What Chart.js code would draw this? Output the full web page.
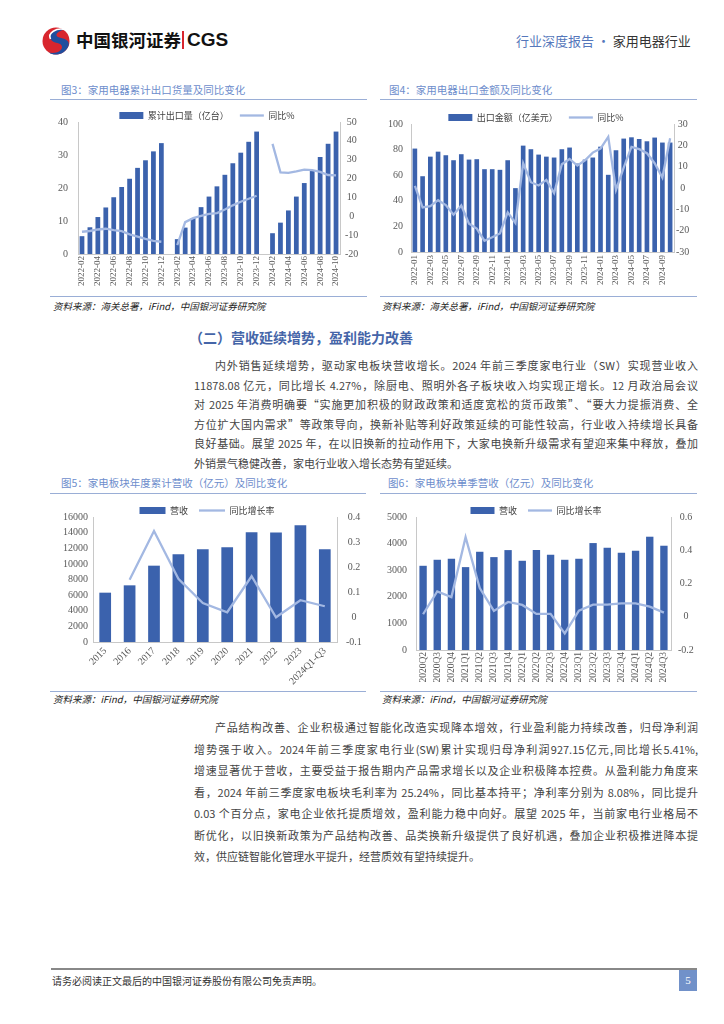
<!DOCTYPE html>
<html lang="zh-CN">
<head>
<meta charset="utf-8">
<title>行业深度报告 · 家用电器行业</title>
<script src="https://cdn.jsdelivr.net/npm/chart.js@4.4.1/dist/chart.umd.min.js"></script>
<style>
  html, body { margin: 0; padding: 0; background: #fff; }
  .page { position: relative; width: 724px; height: 1024px; overflow: hidden;
          font-family: "Noto Sans CJK SC", "Noto Sans", sans-serif; color: #333; }
  .a { position: absolute; white-space: nowrap; }
  .ln { position: absolute; height: 16px; line-height: 16px; font-size: 11px; color: #444;
        white-space: nowrap; text-align: justify; text-align-last: justify; }
  .ln.last { text-align-last: left; }
  .ftitle { position: absolute; font-size: 10.5px; line-height: 14px; color: #6d8dcc; white-space: nowrap; }
  .fsrc { position: absolute; font-size: 9.5px; line-height: 12px; color: #222; font-style: italic; white-space: nowrap; }
  .rule { position: absolute; height: 1.5px; background: #9aaed6; }
  canvas { position: absolute; }
</style>
</head>
<body>
<div class="page">

  <!-- header -->
  <svg class="a" style="left:41px;top:26px" width="30" height="30" viewBox="0 0 30 30">
    <circle cx="15" cy="15" r="13.5" fill="#d8262e"/>
    <path d="M24 3.5 C15 1.5 6.5 7 9.5 13 C12 18 21 16 21 21 C21 25 15 28 8 26.5 C13 30.5 24 29 27.5 20 C29.5 13 21 12.5 17 11 C13.5 9.5 16 5 24 3.5 Z" fill="#1f4e9e"/>
    <path d="M24 3.5 C15 1.5 6.5 7 9.5 13" stroke="#fff" stroke-width="1.6" fill="none"/>
  </svg>
  <div class="a" style="left:76px;top:29px;font-size:17.5px;line-height:22px;font-weight:bold;color:#111;">中国银河证券</div>
  <div class="a" style="left:182px;top:31px;width:1.5px;height:18px;background:#d8262e;"></div>
  <div class="a" style="left:187px;top:28px;font-size:19px;line-height:24px;font-weight:bold;color:#111;font-family:'Liberation Sans',Arial,sans-serif;">CGS</div>
  <div class="a" style="left:516px;top:32px;font-size:13px;line-height:18px;"><span style="color:#5577bb">行业深度报告 · </span><span style="color:#333">家用电器行业</span></div>

  <!-- figure 3 -->
  <div class="ftitle" style="left:61px;top:83px;">图3：家用电器累计出口货量及同比变化</div>
  <div class="rule" style="left:50px;top:98.5px;width:317px;"></div>
  <canvas id="fig3" width="316" height="195" style="left:52px;top:100px;"></canvas>
  <div class="rule" style="left:50px;top:295.5px;width:317px;"></div>
  <div class="fsrc" style="left:53px;top:300px;">资料来源：海关总署，iFind，中国银河证券研究院</div>

  <!-- figure 4 -->
  <div class="ftitle" style="left:389px;top:83px;">图4：家用电器出口金额及同比变化</div>
  <div class="rule" style="left:380px;top:98.5px;width:317px;"></div>
  <canvas id="fig4" width="322" height="195" style="left:378px;top:100px;"></canvas>
  <div class="rule" style="left:380px;top:295.5px;width:317px;"></div>
  <div class="fsrc" style="left:382px;top:300px;">资料来源：海关总署，iFind，中国银河证券研究院</div>

  <!-- section text 1 -->
  <div class="a" style="left:189px;top:327px;font-size:14px;line-height:20px;font-weight:bold;color:#4565a8;">（二）营收延续增势，盈利能力改善</div>
  <div class="ln" style="left:215px;top:357px;width:483px;">内外销售延续增势，驱动家电板块营收增长。2024 年前三季度家电行业（SW）实现营业收入</div>
  <div class="ln" style="left:194px;top:376.5px;width:504px;">11878.08 亿元，同比增长 4.27%，除厨电、照明外各子板块收入均实现正增长。12 月政治局会议</div>
  <div class="ln" style="left:194px;top:396px;width:504px;">对 2025 年消费明确要“实施更加积极的财政政策和适度宽松的货币政策”、“要大力提振消费、全</div>
  <div class="ln" style="left:194px;top:415.5px;width:504px;">方位扩大国内需求”等政策导向，换新补贴等利好政策延续的可能性较高，行业收入持续增长具备</div>
  <div class="ln" style="left:194px;top:435px;width:504px;">良好基础。展望 2025 年，在以旧换新的拉动作用下，大家电换新升级需求有望迎来集中释放，叠加</div>
  <div class="ln last" style="left:194px;top:454.5px;width:504px;">外销景气稳健改善，家电行业收入增长态势有望延续。</div>

  <!-- figure 5 -->
  <div class="ftitle" style="left:61px;top:476px;">图5：家电板块年度累计营收（亿元）及同比变化</div>
  <div class="rule" style="left:50px;top:492.5px;width:316px;"></div>
  <canvas id="fig5" width="316" height="197" style="left:52px;top:493px;"></canvas>
  <div class="rule" style="left:50px;top:690.5px;width:316px;"></div>
  <div class="fsrc" style="left:53px;top:693px;">资料来源：iFind，中国银河证券研究院</div>

  <!-- figure 6 -->
  <div class="ftitle" style="left:388px;top:476px;">图6：家电板块单季营收（亿元）及同比变化</div>
  <div class="rule" style="left:380px;top:492.5px;width:317px;"></div>
  <canvas id="fig6" width="322" height="197" style="left:378px;top:493px;"></canvas>
  <div class="rule" style="left:380px;top:690.5px;width:317px;"></div>
  <div class="fsrc" style="left:382px;top:693px;">资料来源：iFind，中国银河证券研究院</div>

  <!-- section text 2 -->
  <div class="ln" style="left:215px;top:719px;width:483px;">产品结构改善、企业积极通过智能化改造实现降本增效，行业盈利能力持续改善，归母净利润</div>
  <div class="ln" style="left:194px;top:740.5px;width:504px;">增势强于收入。2024年前三季度家电行业(SW)累计实现归母净利润927.15亿元,同比增长5.41%,</div>
  <div class="ln" style="left:194px;top:762px;width:504px;">增速显著优于营收，主要受益于报告期内产品需求增长以及企业积极降本控费。从盈利能力角度来</div>
  <div class="ln" style="left:194px;top:783.5px;width:504px;">看，2024 年前三季度家电板块毛利率为 25.24%，同比基本持平；净利率分别为 8.08%，同比提升</div>
  <div class="ln" style="left:194px;top:805px;width:504px;">0.03 个百分点，家电企业依托提质增效，盈利能力稳中向好。展望 2025 年，当前家电行业格局不</div>
  <div class="ln" style="left:194px;top:826.5px;width:504px;">断优化，以旧换新政策为产品结构改善、品类换新升级提供了良好机遇，叠加企业积极推进降本提</div>
  <div class="ln last" style="left:194px;top:848px;width:504px;">效，供应链智能化管理水平提升，经营质效有望持续提升。</div>

  <!-- footer -->
  <div class="a" style="left:51px;top:968px;width:646px;height:1.5px;background:#888;"></div>
  <div class="a" style="left:52px;top:974px;font-size:10px;line-height:14px;color:#333;">请务必阅读正文最后的中国银河证券股份有限公司免责声明。</div>
  <div class="a" style="left:679px;top:970px;width:18px;height:21px;background:#7191c9;color:#fff;font-size:11px;line-height:21px;text-align:center;font-family:'Liberation Serif',serif;">5</div>
</div>

<script>
// fig3: cumulative export volume (100M units) and yoy %
const fig3Months = ['2022-02', '2022-03', '2022-04', '2022-05', '2022-06', '2022-07', '2022-08', '2022-09', '2022-10', '2022-11', '2022-12',
  '2023-01', '2023-02', '2023-03', '2023-04', '2023-05', '2023-06', '2023-07', '2023-08', '2023-09', '2023-10', '2023-11', '2023-12',
  '2024-01', '2024-02', '2024-03', '2024-04', '2024-05', '2024-06', '2024-07', '2024-08', '2024-09', '2024-10'];
const fig3Volume = [5.4, 8.1, 11.2, 14.1, 17.2, 20.3, 22.8, 26.1, 28.4, 31.1, 33.6,
  null, 4.5, 8.0, 10.9, 14.2, 17.4, 20.5, 24.0, 27.5, 30.7, 34.0, 37.1,
  null, 6.3, 9.5, 13.2, 17.4, 21.5, 25.3, 29.4, 33.4, 37.1];
const fig3Yoy = [-8.2, -7.8, -7.0, -6.6, -7.3, -7.9, -9.6, -10.8, -12.0, -13.0, -13.5,
  null, -15.3, -3.1, -1.0, 0.2, 1.3, 1.7, 3.6, 5.8, 7.7, 9.3, 10.9,
  null, 38.4, 23.3, 23.0, 23.8, 24.7, 24.5, 23.5, 21.9, 21.7];

// fig4: monthly export value (100M USD) and yoy %
const fig4Months = ['2022-01', '2022-02', '2022-03', '2022-04', '2022-05', '2022-06', '2022-07', '2022-08', '2022-09', '2022-10', '2022-11', '2022-12',
  '2023-01', '2023-02', '2023-03', '2023-04', '2023-05', '2023-06', '2023-07', '2023-08', '2023-09', '2023-10', '2023-11', '2023-12',
  '2024-01', '2024-02', '2024-03', '2024-04', '2024-05', '2024-06', '2024-07', '2024-08', '2024-09', '2024-10'];
const fig4Amount = [80.8, 59.2, 74.5, 78.4, 75.6, 71.7, 76.4, 72.2, 72.5, 64.7, 64.7, 64.2,
  71.7, 49.9, 83.1, 80.3, 76.1, 74.5, 73.8, 80.3, 81.6, 69.1, 72.2, 73.8,
  82.3, 60.3, 79.5, 88.6, 89.6, 88.3, 86.5, 89.4, 85.5, 85.5];
const fig4Yoy = [1.0, -9.1, -8.5, -5.7, -8.0, -12.5, -8.2, -16.7, -19.0, -24.7, -23.1, -21.3,
  -11.4, -16.4, 11.6, 2.7, 1.2, 3.8, -2.4, 11.1, 13.6, 10.5, 13.0, 16.6,
  18.5, 24.0, -0.9, 9.6, 19.3, 18.2, 16.3, 11.6, 4.9, 23.3];

// fig5: annual revenue (100M CNY) and yoy
const fig5Years = ['2015', '2016', '2017', '2018', '2019', '2020', '2021', '2022', '2023', '2024Q1-Q3'];
const fig5Revenue = [6314, 7253, 9770, 11220, 11860, 12116, 14050, 14030, 14932, 11878];
const fig5Yoy = [null, 0.149, 0.344, 0.153, 0.056, 0.019, 0.163, -0.001, 0.067, 0.043];

// fig6: quarterly revenue (100M CNY) and yoy
const fig6Quarters = ['2020Q2', '2020Q3', '2020Q4', '2021Q1', '2021Q2', '2021Q3', '2021Q4', '2022Q1', '2022Q2',
  '2022Q3', '2022Q4', '2023Q1', '2023Q2', '2023Q3', '2023Q4', '2024Q1', '2024Q2', '2024Q3'];
const fig6Revenue = [3166, 3392, 3430, 3116, 3693, 3492, 3756, 3354, 3756, 3580, 3392, 3430, 4020, 3844, 3656, 3731, 4259, 3920];
const fig6Yoy = [0.015, 0.152, 0.118, 0.479, 0.172, 0.035, 0.089, 0.071, 0.017, 0.017, -0.100, 0.037, 0.073, 0.073, 0.081, 0.081, 0.061, 0.025];

const BAR = '#3b62ad';
const LINE = '#a3b8e2';
const AXIS = '#c8c8c8';
const TICK = '#595959';
const SERIF = "'Liberation Serif', 'Times New Roman', serif";
const CJK = "'Noto Sans CJK SC', 'Noto Sans', sans-serif";

// force the legend box to a fixed height so the plot area lands where it should
function legendFit(h) {
  return {
    id: 'legendFit',
    afterInit: function (chart) {
      if (!chart.legend) return;
      const fit = chart.legend.fit;
      chart.legend.fit = function () {
        fit.call(this);
        this.height = h;
      };
    }
  };
}

function plain(v) {
  return String(Math.round(v * 10) / 10);
}

function drawCombo(id, o) {
  const ctx = document.getElementById(id).getContext('2d');
  const noGrid = { display: false, drawTicks: false };
  return new Chart(ctx, {
    data: {
      labels: o.labels,
      datasets: [{
        type: 'bar',
        label: o.barLabel,
        data: o.bars,
        backgroundColor: BAR,
        borderWidth: 0,
        yAxisID: 'y',
        order: 2,
        categoryPercentage: o.barPct,
        barPercentage: 1
      }, {
        type: 'line',
        label: o.lineLabel,
        data: o.line,
        borderColor: LINE,
        backgroundColor: LINE,
        borderWidth: 2.3,
        pointRadius: 0,
        tension: 0,
        spanGaps: false,
        yAxisID: 'y1',
        order: 1
      }]
    },
    options: {
      responsive: false,
      animation: false,
      layout: { padding: { top: o.padTop, right: o.padRight, left: 0, bottom: 0 } },
      plugins: {
        tooltip: { enabled: false },
        legend: {
          position: 'top',
          labels: {
            usePointStyle: true,
            pointStyleWidth: o.boxW,
            boxHeight: 7,
            padding: 11,
            color: '#404040',
            font: { family: CJK, size: 9 },
            sort: function (a, b) { return a.datasetIndex - b.datasetIndex; },
            generateLabels: function (chart) {
              const items = Chart.defaults.plugins.legend.labels.generateLabels(chart);
              items.forEach(function (it) {
                const ds = chart.data.datasets[it.datasetIndex];
                if (ds.type === 'line') {
                  it.pointStyle = 'line';
                  it.strokeStyle = LINE;
                  it.lineWidth = 2.3;
                } else {
                  it.pointStyle = 'rect';
                  it.lineWidth = 0;
                }
              });
              return items;
            }
          }
        }
      },
      scales: {
        x: {
          grid: noGrid,
          border: { display: true, color: AXIS },
          ticks: {
            autoSkip: false,
            minRotation: o.rot,
            maxRotation: o.rot,
            padding: o.xPad,
            color: TICK,
            font: { family: SERIF, size: o.xFont },
            callback: function (value, index) {
              return index % o.every === 0 ? this.getLabelForValue(value) : '';
            }
          },
          afterFit: function (s) { s.height = o.xHeight; }
        },
        y: {
          position: 'left',
          min: o.left.min,
          max: o.left.max,
          grid: noGrid,
          border: { display: true, color: AXIS },
          ticks: { stepSize: o.left.step, padding: o.left.pad, color: TICK, font: { family: SERIF, size: 10 }, callback: plain },
          afterFit: function (s) { s.width = o.left.width; }
        },
        y1: {
          position: 'right',
          min: o.right.min,
          max: o.right.max,
          grid: noGrid,
          border: { display: true, color: AXIS },
          ticks: {
            stepSize: o.right.step,
            padding: o.right.pad,
            crossAlign: 'center',
            color: TICK,
            font: { family: SERIF, size: 10 },
            callback: plain
          },
          afterFit: function (s) { s.width = o.right.width; }
        }
      }
    },
    plugins: [legendFit(o.legendH)]
  });
}

drawCombo('fig3', {
  labels: fig3Months, bars: fig3Volume, line: fig3Yoy,
  barLabel: '累计出口量（亿台）', lineLabel: '同比%',
  barPct: 0.6, boxW: 24, padTop: 0, padRight: 6, legendH: 22,
  rot: 90, xPad: 2, xFont: 9, xHeight: 41, every: 2,
  left: { min: 0, max: 40, step: 10, pad: 10, width: 26 },
  right: { min: -20, max: 50, step: 10, pad: 5, width: 22 }
});

drawCombo('fig4', {
  labels: fig4Months, bars: fig4Amount, line: fig4Yoy,
  barLabel: '出口金额（亿美元）', lineLabel: '同比%',
  barPct: 0.6, boxW: 24, padTop: 2, padRight: 6, legendH: 22,
  rot: 90, xPad: 3, xFont: 9, xHeight: 43, every: 2,
  left: { min: 0, max: 100, step: 10, pad: 8, width: 33 },
  right: { min: -30, max: 30, step: 10, pad: 2, width: 20 }
});

drawCombo('fig5', {
  labels: fig5Years, bars: fig5Revenue, line: fig5Yoy,
  barLabel: '营收', lineLabel: '同比增长率',
  barPct: 0.48, boxW: 26, padTop: 2, padRight: 6, legendH: 22,
  rot: 45, xPad: 3, xFont: 10, xHeight: 48, every: 1,
  left: { min: 0, max: 16000, step: 2000, pad: 5, width: 41 },
  right: { min: -0.1, max: 0.4, step: 0.1, pad: 9, width: 25 }
});

drawCombo('fig6', {
  labels: fig6Quarters, bars: fig6Revenue, line: fig6Yoy,
  barLabel: '营收', lineLabel: '同比增长率',
  barPct: 0.52, boxW: 24, padTop: 2, padRight: 6, legendH: 22,
  rot: 90, xPad: 2, xFont: 9.5, xHeight: 40, every: 1,
  left: { min: 0, max: 5000, step: 1000, pad: 9, width: 38 },
  right: { min: -0.2, max: 0.6, step: 0.2, pad: 7, width: 23 }
});
</script>
</body>
</html>
